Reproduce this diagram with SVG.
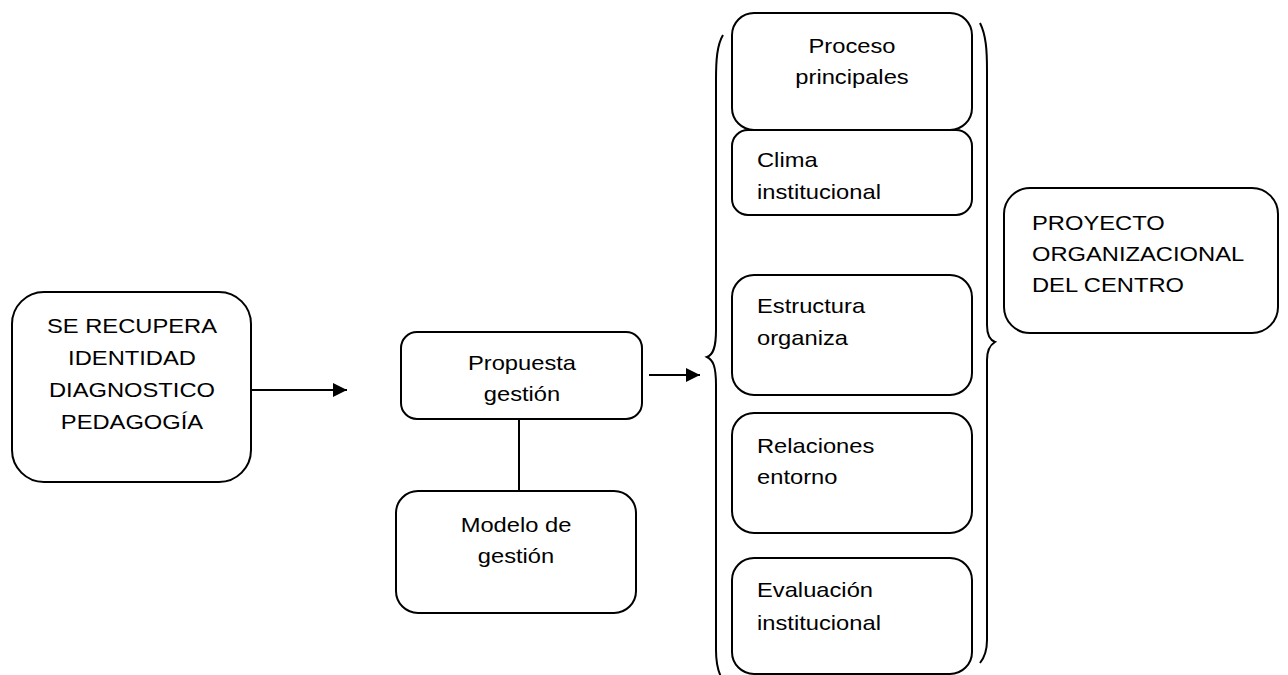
<svg xmlns="http://www.w3.org/2000/svg" width="1288" height="675" viewBox="0 0 1288 675">
<style>
.box{fill:#fff;stroke:#000;stroke-width:2}
.brace{fill:none;stroke:#000;stroke-width:2}
.conn{fill:none;stroke:#000;stroke-width:2}
text{font-family:"Liberation Sans",Arial,sans-serif;font-size:21px;fill:#000}
.c{text-anchor:middle}
</style>
<defs>
<marker id="ah" markerUnits="userSpaceOnUse" markerWidth="14" markerHeight="14" refX="14" refY="7" orient="auto">
<path d="M0,0 L14,7 L0,14 Z" fill="#000"/>
</marker>
</defs>
<rect width="1288" height="675" fill="#fff"/>
<g id="connectors">
<line class="conn" x1="252" y1="390" x2="347" y2="390" marker-end="url(#ah)"/>
<line class="conn" x1="649" y1="375" x2="700" y2="375" marker-end="url(#ah)"/>
<line class="conn" x1="519" y1="419" x2="519" y2="491"/>
</g>
<g id="braces">
<path class="brace" d="M723,35 C717,45 716,60 716,80 L716,330 C716,348 713,355 707,357 C713,360 716,366 716,385 L716,650 C716,665 719,675 724,682"/>
<path class="brace" d="M980,23 C986,35 987,50 987,70 L987,325 C987,336 990,340 995,342 C990,345 987,350 987,360 L987,640 C987,650 984,658 980,663"/>
</g>
<g id="n-recupera">
<rect class="box" x="12" y="292" width="239" height="190" rx="32"/>
<text class="c" transform="translate(132 333) scale(1.13 1)">SE RECUPERA</text>
<text class="c" transform="translate(132 365) scale(1.13 1)">IDENTIDAD</text>
<text class="c" transform="translate(132 397) scale(1.13 1)">DIAGNOSTICO</text>
<text class="c" transform="translate(132 429) scale(1.13 1)">PEDAGOGÍA</text>
</g>
<g id="n-propuesta">
<rect class="box" x="401" y="332" width="241" height="87" rx="16"/>
<text class="c" transform="translate(522 370) scale(1.13 1)">Propuesta</text>
<text class="c" transform="translate(522 401) scale(1.13 1)">gestión</text>
</g>
<g id="n-modelo">
<rect class="box" x="396" y="491" width="240" height="122" rx="22"/>
<text class="c" transform="translate(516 532) scale(1.13 1)">Modelo de</text>
<text class="c" transform="translate(516 563) scale(1.13 1)">gestión</text>
</g>
<g id="n-proceso">
<rect class="box" x="732" y="13" width="240" height="117" rx="22"/>
<text class="c" transform="translate(852 53) scale(1.13 1)">Proceso</text>
<text class="c" transform="translate(852 84) scale(1.13 1)">principales</text>
</g>
<g id="n-clima">
<rect class="box" x="732" y="130" width="240" height="85" rx="16"/>
<text transform="translate(757 167) scale(1.13 1)">Clima</text>
<text transform="translate(757 199) scale(1.13 1)">institucional</text>
</g>
<g id="n-estructura">
<rect class="box" x="732" y="275" width="240" height="120" rx="22"/>
<text transform="translate(757 313) scale(1.13 1)">Estructura</text>
<text transform="translate(757 345) scale(1.13 1)">organiza</text>
</g>
<g id="n-relaciones">
<rect class="box" x="732" y="413" width="240" height="120" rx="22"/>
<text transform="translate(757 453) scale(1.13 1)">Relaciones</text>
<text transform="translate(757 484) scale(1.13 1)">entorno</text>
</g>
<g id="n-evaluacion">
<rect class="box" x="732" y="558" width="240" height="116" rx="22"/>
<text transform="translate(757 597) scale(1.13 1)">Evaluación</text>
<text transform="translate(757 630) scale(1.13 1)">institucional</text>
</g>
<g id="n-proyecto">
<rect class="box" x="1004" y="188" width="274" height="145" rx="26"/>
<text transform="translate(1032 230) scale(1.13 1)">PROYECTO</text>
<text transform="translate(1032 261) scale(1.13 1)">ORGANIZACIONAL</text>
<text transform="translate(1032 292) scale(1.13 1)">DEL CENTRO</text>
</g>
</svg>
